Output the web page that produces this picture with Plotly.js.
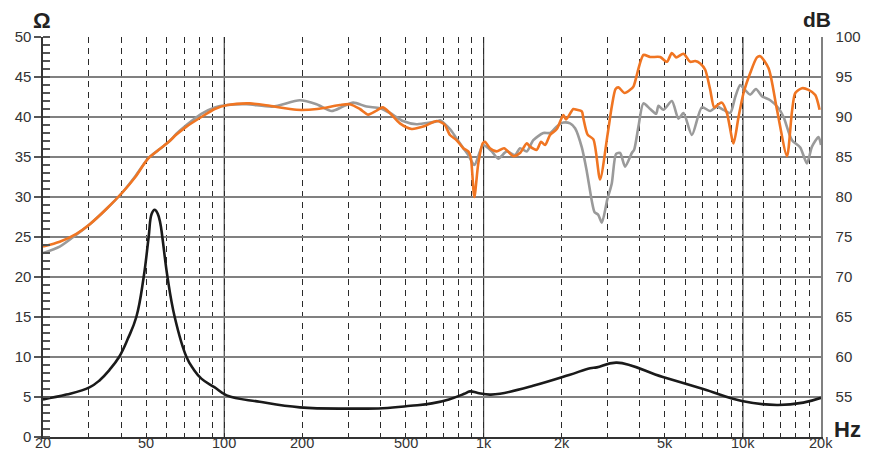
<!DOCTYPE html>
<html>
<head>
<meta charset="utf-8">
<script src="https://cdn.plot.ly/plotly-3.0.1.min.js"></script>
<style>
  html, body { margin: 0; padding: 0; background: #fff; }
  #chart { width: 872px; height: 452px; }
</style>
</head>
<body>
<div id="chart"></div>
<script>
// ---- Data ----
// Impedance curve (Ohm, left axis)
const impFreq = [20, 24.6, 30.2, 33.1, 36.1, 39.3, 42.5, 45.8, 48.9, 51.1, 52.5, 53.9, 55.4, 56.7, 57.7, 60.4, 64.4, 71.5, 76, 81.6, 91.9, 102.2, 137, 195.6, 311, 409, 523, 632, 735, 842, 886, 951, 1058, 1157, 1551, 2136, 2574, 2733, 3264, 4912, 7025, 9910, 13530, 17090, 20000];
const impOhm  = [4.7, 5.3, 6.2, 7.1, 8.4, 10.0, 12.3, 15.0, 20, 25, 27.9, 28.4, 27.9, 26.7, 25, 20, 15, 10, 8.5, 7.3, 6.2, 5.2, 4.4, 3.7, 3.55, 3.6, 3.9, 4.2, 4.7, 5.4, 5.7, 5.5, 5.3, 5.4, 6.4, 7.75, 8.6, 8.7, 9.3, 7.5, 6.0, 4.5, 4.0, 4.3, 4.9];

// SPL gray curve (dB, right axis)
const grayFreq = [20, 23.2, 26.9, 30.3, 35.1, 40.3, 45.4, 50.8, 56.4, 61.1, 65.4, 71.5, 81.6, 91.9, 102.9, 121.8, 153.9, 195.6, 226.9, 259.2, 286.6, 314.2, 353.9, 398.2, 435.3, 488.6, 551.9, 621, 668.7, 679, 742, 787, 835, 873, 921, 969, 997, 1075, 1139, 1228, 1322, 1381, 1467, 1555, 1700, 1804, 1915, 2031, 2155, 2253, 2392, 2500, 2614, 2679, 2764, 2857, 3000, 3121, 3243, 3360, 3514, 3729, 3806, 3954, 4133, 4387, 4627, 4723, 4938, 5321, 5641, 5898, 6355, 6946, 7478, 7937, 8417, 8931, 9339, 9761, 10116, 10669, 11224, 11838, 12745, 13722, 14346, 15458, 16633, 17654, 18460, 19573, 20000];
const grayDb   = [73.0, 73.8, 75.3, 76.6, 78.5, 80.5, 82.6, 84.8, 86.0, 86.9, 87.9, 89.0, 90.4, 91.2, 91.5, 91.6, 91.3, 92.1, 91.6, 90.75, 91.3, 91.8, 91.3, 91.1, 90.5, 89.5, 89.1, 89.3, 89.5, 89.6, 88.5, 87.3, 86.1, 85.25, 84.0, 85.7, 86.5, 85.7, 84.8, 85.7, 85.25, 86.1, 85.7, 87.1, 88.0, 88.0, 88.8, 89.3, 89.2, 88.6, 86.2, 83.2, 79.5, 78.1, 77.8, 76.8, 79.7, 81.7, 85.4, 85.5, 83.8, 85.5, 85.9, 88.8, 91.7, 91.0, 90.4, 91.4, 90.9, 92.0, 89.8, 90.5, 87.75, 91.2, 90.75, 91.3, 90.9, 90.5, 92.5, 94.0, 93.5, 92.8, 93.5, 92.6, 92.1, 91.1, 90.0, 87.1, 86.2, 84.2, 86.3, 87.5, 86.5];

// SPL orange curve (dB, right axis)
const orangeFreq = [20, 23.2, 26.9, 30.3, 35.1, 40.3, 45.4, 50.8, 56.4, 61.1, 65.4, 71.5, 81.6, 91.9, 102.9, 125.4, 149.8, 189.9, 228.1, 279.1, 305, 333.4, 359, 386.7, 407.8, 435.3, 475.7, 527.8, 585.1, 659, 689, 709.6, 742, 787, 835, 873, 892, 921, 954, 992, 1012, 1058, 1123, 1199, 1302, 1381, 1467, 1510, 1603, 1665, 1726, 1804, 1915, 2031, 2080, 2219, 2288, 2392, 2426, 2518, 2651, 2813, 3006, 3121, 3228, 3310, 3497, 3673, 3782, 4133, 4387, 4796, 5090, 5321, 5527, 5898, 6260, 6545, 6843, 7153, 7478, 7748, 8050, 8297, 8674, 9199, 9616, 10054, 10669, 11324, 11660, 12556, 13530, 14786, 15458, 15917, 16891, 17908, 19011, 19751];
const orangeDb   = [73.8, 74.4, 75.4, 76.6, 78.5, 80.5, 82.5, 84.8, 86.0, 86.9, 87.8, 88.8, 90.0, 91.0, 91.5, 91.7, 91.4, 90.9, 91.0, 91.5, 91.6, 91.0, 90.3, 90.8, 91.2, 90.5, 89.2, 88.5, 88.8, 89.5, 89.3, 89.0, 87.75, 87.1, 86.1, 85.7, 85.0, 80.0, 84.2, 86.7, 86.9, 86.1, 85.7, 86.1, 85.1, 85.5, 86.7, 86.3, 85.9, 86.9, 86.5, 87.75, 88.5, 90.25, 89.7, 91.0, 90.9, 90.7, 89.8, 87.8, 87.2, 82.2, 87.8, 91.3, 93.5, 93.7, 93.0, 93.4, 93.8, 97.75, 97.5, 97.5, 96.9, 98.0, 97.45, 97.9, 96.9, 97.0, 96.7, 95.9, 93.4, 91.2, 91.6, 91.8, 90.5, 86.7, 90.0, 93.0, 95.5, 97.45, 97.6, 96.1, 90.9, 85.1, 90.7, 93.0, 93.6, 93.4, 92.75, 90.9];

// Axis ticks
const xGridVals = [20, 30, 40, 50, 60, 70, 80, 90, 100, 200, 300, 400, 500, 600, 700, 800, 900, 1000, 2000, 3000, 4000, 5000, 6000, 7000, 8000, 9000, 10000, 12000, 14000, 16000, 18000, 20000];
const xLabelVals = [20, 50, 100, 200, 500, 1000, 2000, 5000, 10000, 20000];
const xLabelText = ['20', '50', '100', '200', '500', '1k', '2k', '5k', '10k', '20k'];
const solidGridVals = [100, 1000, 10000];
const ohmTicks = [0, 5, 10, 15, 20, 25, 30, 35, 40, 45, 50];
const dbTicks = [55, 60, 65, 70, 75, 80, 85, 90, 95, 100];

// ---- Build ----
const FONT = 'Liberation Sans, Arial, sans-serif';

const traces = [
  {
    x: grayFreq, y: grayDb, yaxis: 'y2', type: 'scatter', mode: 'lines',
    line: { color: '#9a9a9a', width: 2.6, shape: 'spline', smoothing: 0.7 }
  },
  {
    x: orangeFreq, y: orangeDb, yaxis: 'y2', type: 'scatter', mode: 'lines',
    line: { color: '#f07522', width: 2.6, shape: 'spline', smoothing: 0.7 }
  },
  {
    x: impFreq, y: impOhm, yaxis: 'y', type: 'scatter', mode: 'lines',
    line: { color: '#1a1a1a', width: 2.6, shape: 'spline', smoothing: 1.2 }
  }
];

const xLabelAnnotations = xLabelVals.map((v, i) => ({
  text: xLabelText[i], xref: 'x', yref: 'paper', x: Math.log10(v), y: 0,
  xanchor: 'center', yanchor: 'bottom', yshift: -15, borderpad: 0,
  showarrow: false, font: { family: FONT, size: 14.5, color: '#333333' }
}));

const layout = {
  width: 872, height: 452,
  margin: { l: 43, r: 51, t: 37, b: 15, pad: 0 },
  paper_bgcolor: '#ffffff', plot_bgcolor: '#ffffff',
  showlegend: false,
  hovermode: false,
  font: { family: FONT, size: 15, color: '#333333' },
  xaxis: {
    type: 'log',
    range: [Math.log10(20), Math.log10(20000)],
    tickmode: 'array', tickvals: xGridVals,
    showticklabels: false, ticks: '',
    showgrid: true, gridcolor: '#2a2a2a', gridwidth: 1, griddash: '6px,5px',
    showline: true, linecolor: '#333333', linewidth: 1.6,
    zeroline: false
  },
  yaxis: {
    range: [0, 50],
    tickmode: 'array', tickvals: ohmTicks,
    ticks: 'outside', ticklen: 7, tickcolor: '#555555', tickwidth: 1.2,
    minor: { dtick: 1, ticks: 'inside', ticklen: 7, tickcolor: '#555555', tickwidth: 1.2, showgrid: false },
    showgrid: true, gridcolor: '#808080', gridwidth: 1.6,
    showline: true, linecolor: '#333333', linewidth: 1.6,
    zeroline: false,
    tickfont: { family: FONT, size: 15, color: '#333333' }
  },
  yaxis2: {
    range: [50, 100],
    overlaying: 'y', side: 'right',
    tickmode: 'array', tickvals: dbTicks,
    ticks: '', ticklabelstandoff: 10,
    showgrid: false,
    showline: true, linecolor: '#808080', linewidth: 1.6,
    zeroline: false,
    tickfont: { family: FONT, size: 15, color: '#333333' }
  },
  shapes: solidGridVals.map(v => ({
    type: 'line', xref: 'x', yref: 'paper', x0: v, x1: v, y0: 0, y1: 1,
    line: { color: '#444444', width: 1.2 }, layer: 'below'
  })),
  annotations: xLabelAnnotations.concat([
    { text: '<b>Ω</b>', xref: 'paper', yref: 'paper', x: -0.001, y: 1.041,
      xanchor: 'center', yanchor: 'middle', showarrow: false,
      font: { family: FONT, size: 22, color: '#222222' } },
    { text: '<b>dB</b>', xref: 'paper', yref: 'paper', x: 0.9955, y: 1.043,
      xanchor: 'center', yanchor: 'middle', showarrow: false,
      font: { family: FONT, size: 21, color: '#222222' } },
    { text: '<b>Hz</b>', xref: 'paper', yref: 'paper', x: 1.0345, y: 0.02,
      xanchor: 'center', yanchor: 'middle', showarrow: false, borderpad: 0,
      font: { family: FONT, size: 22, color: '#222222' } }
  ])
};

Plotly.newPlot('chart', traces, layout, { staticPlot: true, displayModeBar: false });
</script>
</body>
</html>
